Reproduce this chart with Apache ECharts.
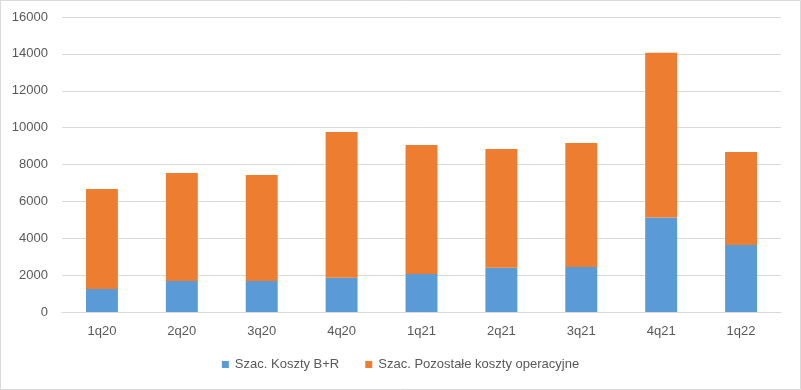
<!DOCTYPE html>
<html>
<head>
<meta charset="utf-8">
<script src="https://cdn.jsdelivr.net/npm/echarts@6/dist/echarts.min.js"></script>
<style>
html,body{margin:0;padding:0;background:#fff;}
#chart{width:801px;height:390px;}
</style>
</head>
<body>
<div id="chart"></div>
<script>
var categories = ['1q20','2q20','3q20','4q20','1q21','2q21','3q21','4q21','1q22'];
var kosztyBR = [1250, 1680, 1680, 1860, 2060, 2400, 2440, 5120, 3630];
var pozostale = [5420, 5860, 5750, 7900, 7000, 6440, 6720, 8940, 5050];
var yTicks = [0, 2000, 4000, 6000, 8000, 10000, 12000, 14000, 16000];
var seriesNames = ['Szac. Koszty B+R', 'Szac. Pozostałe koszty operacyjne'];

var chart = echarts.init(document.getElementById('chart'), null, {renderer:'canvas'});
var font = 'Liberation Sans, Arial, sans-serif';
chart.setOption({
  animation: false,
  backgroundColor: '#fff',
  graphic: [{
    type: 'rect', shape: {x: 0.5, y: 0.5, width: 800, height: 389},
    style: {fill: 'none', stroke: '#D9D9D9', lineWidth: 1}, silent: true
  }],
  grid: {left: 62, right: 20, top: 17, bottom: 78},
  legend: {
    bottom: 14, left: 'center', itemWidth: 7, itemHeight: 7, itemGap: 26,
    icon: 'rect',
    textStyle: {color: '#595959', fontSize: 13, fontFamily: font, padding: [0, 0, 0, 1]},
    data: seriesNames
  },
  xAxis: {
    type: 'category', data: categories,
    axisLine: {lineStyle: {color: '#D9D9D9'}},
    axisTick: {show: false},
    axisLabel: {color: '#595959', fontSize: 13, fontFamily: font, margin: 13}
  },
  yAxis: {
    type: 'value', min: yTicks[0], max: yTicks[yTicks.length-1], interval: 2000,
    axisLine: {show: false}, axisTick: {show: false},
    splitLine: {lineStyle: {color: '#D9D9D9'}},
    axisLabel: {color: '#595959', fontSize: 13, fontFamily: font, margin: 14,
      formatter: function (v) { return String(v); }}
  },
  series: [
    {name: seriesNames[0], type: 'bar', stack: 'a', data: kosztyBR, barWidth: '40%',
     itemStyle: {color: '#5B9BD5'}},
    {name: seriesNames[1], type: 'bar', stack: 'a', data: pozostale, barWidth: '40%',
     itemStyle: {color: '#ED7D31'}}
  ]
});
</script>
</body>
</html>
